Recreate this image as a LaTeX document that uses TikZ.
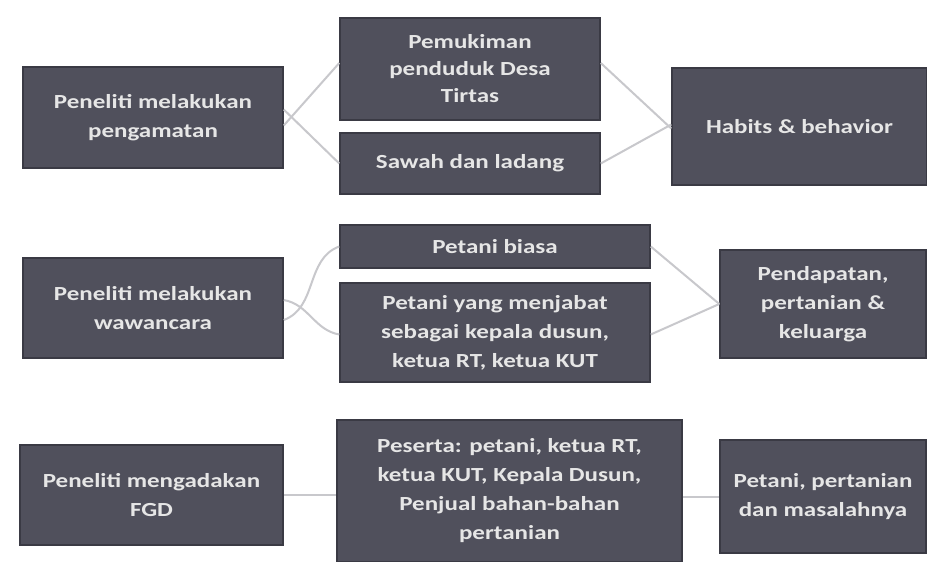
\documentclass[tikz,border=0pt]{standalone}
\usepackage{fontspec}
\setmainfont{Carlito}[FakeStretch=1.25]
\definecolor{boxfill}{HTML}{50505C}
\definecolor{boxline}{HTML}{3A3A44}
\definecolor{boxtext}{HTML}{E6E6E6}
\definecolor{conn}{HTML}{C8C8CC}
\begin{document}
\begin{tikzpicture}[x=1pt,y=-1pt,
  box/.style={draw=boxline,line width=1.5pt,fill=boxfill,text=boxtext,align=center,
    inner sep=4pt,font=\fontsize{20}{29}\selectfont\bfseries},
  link/.style={draw=conn,line width=2pt}]
\useasboundingbox[fill=white] (0,0) rectangle (927,562);
\node[box,minimum width=260,minimum height=101] (obs) at (153,117.5) {Peneliti melakukan\\pengamatan};
\node[box,minimum width=260,minimum height=102,font=\fontsize{20}{27}\selectfont\bfseries] (pem) at (470,69) {Pemukiman\\penduduk Desa\\Tirtas};
\node[box,minimum width=260,minimum height=61] (saw) at (470,163.5) {Sawah dan ladang};
\node[box,minimum width=255,minimum height=117] (hab) at (799.5,126.5) {Habits \& behavior};
\node[box,minimum width=260,minimum height=100] (waw) at (153,308) {Peneliti melakukan\\wawancara};
\node[box,minimum width=310,minimum height=43] (pet) at (495,246.5) {Petani biasa};
\node[box,minimum width=310,minimum height=99] (jab) at (495,332.5) {Petani yang menjabat\\sebagai kepala dusun,\\ketua RT, ketua KUT};
\node[box,minimum width=206,minimum height=108] (pen) at (823,304) {Pendapatan,\\pertanian \&\\keluarga};
\node[box,minimum width=263,minimum height=100] (fgd) at (151.5,495) {Peneliti mengadakan\\FGD};
\node[box,minimum width=345,minimum height=142] (pes) at (509.5,491) {Peserta: petani, ketua RT,\\ketua KUT, Kepala Dusun,\\Penjual bahan-bahan\\pertanian};
\node[box,minimum width=206,minimum height=113] (mas) at (823,496.5) {Petani, pertanian\\dan masalahnya};
% row 1
\draw[link] ([yshift=-8]obs.east) -- ([yshift=6]pem.west);
\draw[link] ([yshift=8]obs.east) -- (saw.west);
\draw[link] ([yshift=6]pem.east) -- ([yshift=-2]hab.west);
\draw[link] (saw.east) -- ([yshift=2]hab.west);
% row 2
\draw[link] ([yshift=-12]waw.east) to[out=20,in=200] (pet.west);
\draw[link] ([yshift=8]waw.east) to[out=-10,in=170] ([yshift=-2]jab.west);
\draw[link] (pet.east) -- (pen.west);
\draw[link] ([yshift=-2]jab.east) -- (pen.west);
% row 3
\draw[link] (fgd.east) -- (pes.west |- fgd.east);
\draw[link] (pes.east |- mas.west) -- (mas.west);
\end{tikzpicture}
\end{document}
